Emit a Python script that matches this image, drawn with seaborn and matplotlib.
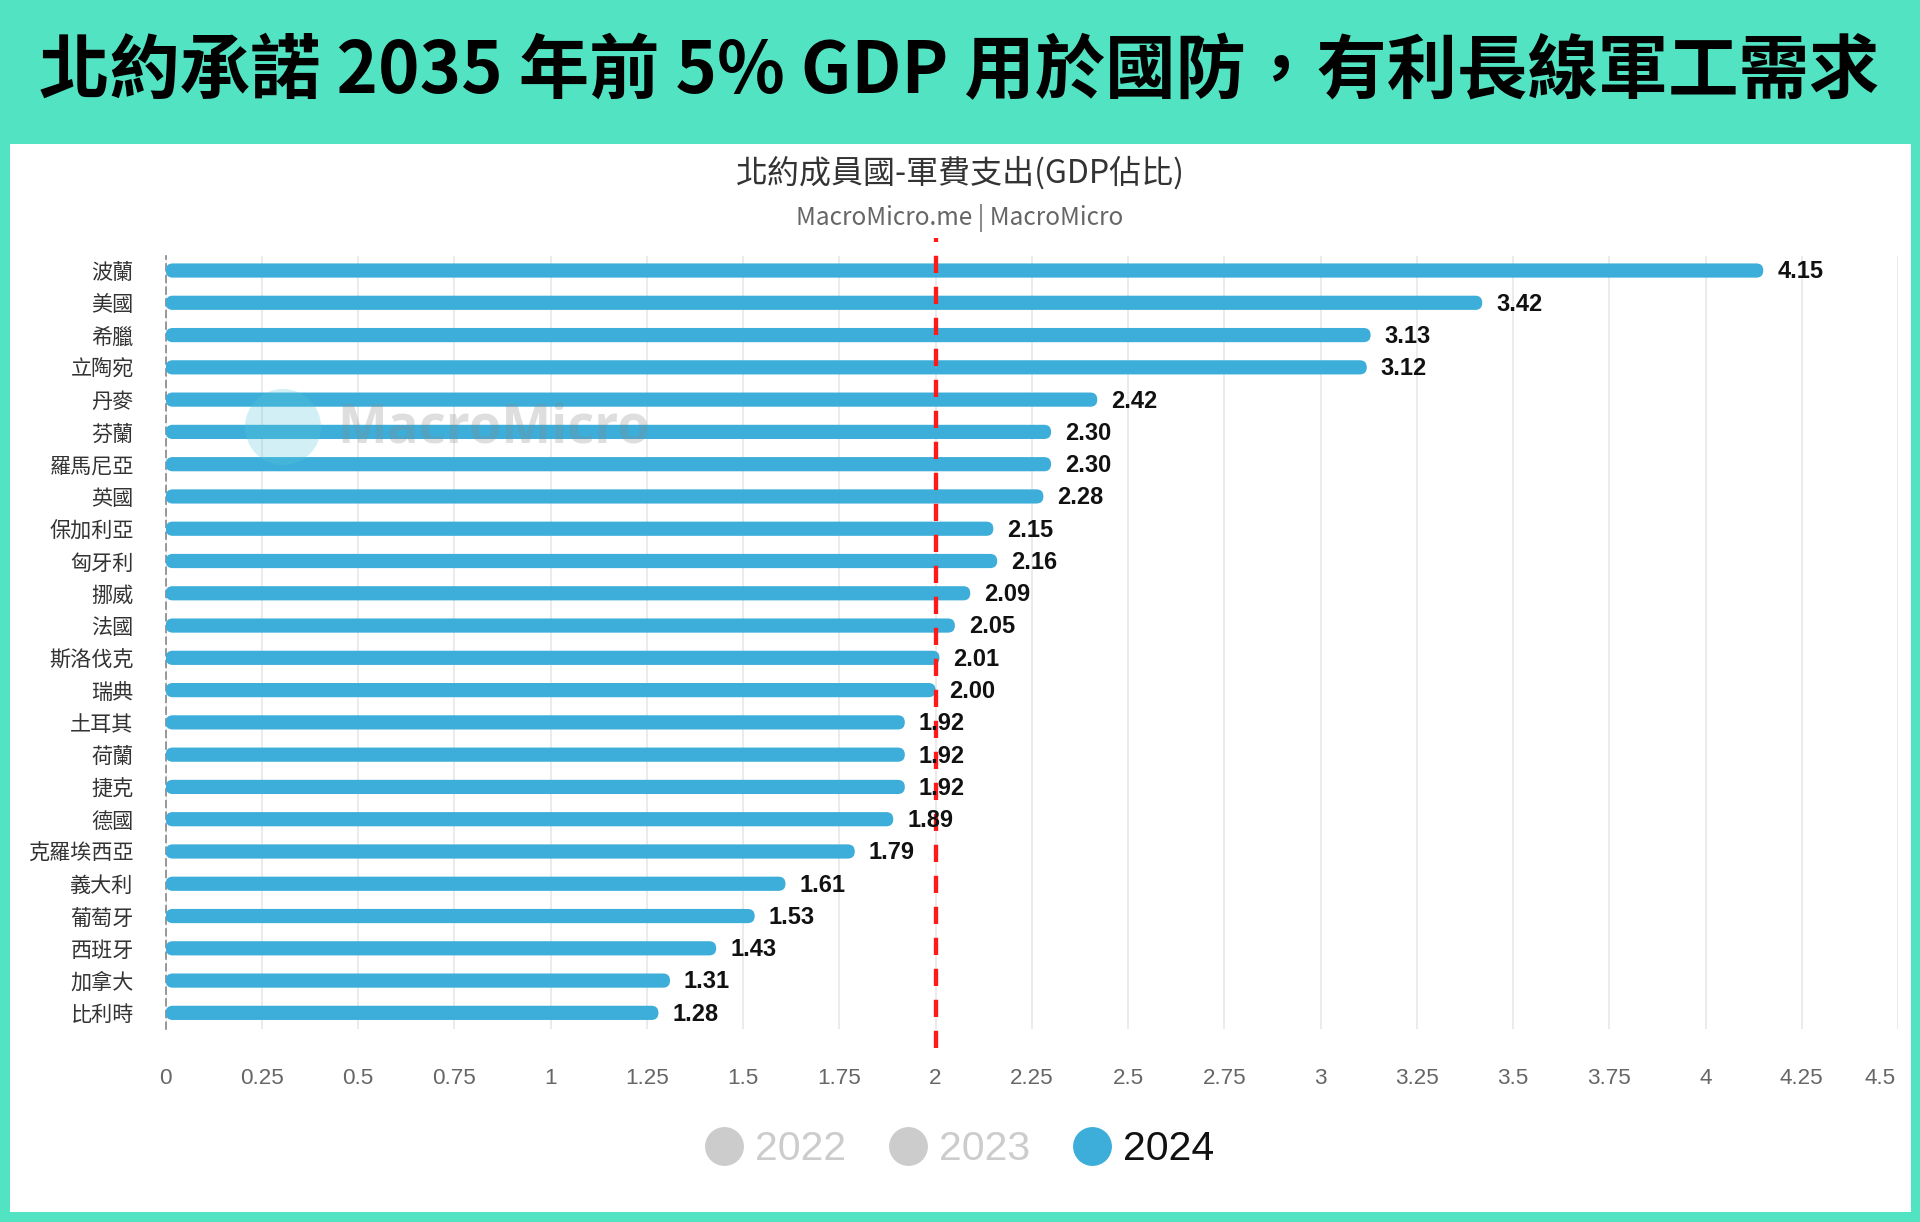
import numpy as np
import pandas as pd
import seaborn as sns
import matplotlib
matplotlib.use('Agg')
import matplotlib.pyplot as plt
import matplotlib.transforms as mtransforms
from matplotlib.patches import FancyBboxPatch, Rectangle, Circle
from matplotlib.lines import Line2D

# Data (2024, % of GDP)
countries = ['波蘭', '美國', '希臘', '立陶宛', '丹麥', '芬蘭', '羅馬尼亞', '英國', '保加利亞',
             '匈牙利', '挪威', '法國', '斯洛伐克', '瑞典', '土耳其', '荷蘭', '捷克', '德國',
             '克羅埃西亞', '義大利', '葡萄牙', '西班牙', '加拿大', '比利時']
values_2024 = [4.15, 3.42, 3.13, 3.12, 2.42, 2.30, 2.30, 2.28, 2.15,
               2.16, 2.09, 2.05, 2.01, 2.00, 1.92, 1.92, 1.92, 1.89,
               1.79, 1.61, 1.53, 1.43, 1.31, 1.28]
legend_years = ['2022', '2023', '2024']
x_ticks = [0, 0.25, 0.5, 0.75, 1, 1.25, 1.5, 1.75, 2, 2.25, 2.5, 2.75, 3, 3.25, 3.5, 3.75, 4, 4.25, 4.5]
x_tick_labels = ['0', '0.25', '0.5', '0.75', '1', '1.25', '1.5', '1.75', '2', '2.25', '2.5',
                 '2.75', '3', '3.25', '3.5', '3.75', '4', '4.25', '4.5']
target = 2

df = pd.DataFrame({'country': countries, 'value': values_2024})

TEAL = '#52e3c3'
BLUE = '#3caed9'
CJK = ['Noto Sans CJK TC', 'DejaVu Sans']
LAT = ['Liberation Sans', 'DejaVu Sans']

sns.set_style('white')
plt.rcParams['font.family'] = CJK

W, H = 1920, 1222
fig = plt.figure(figsize=(19.2, 12.22), dpi=100)
fig.patch.set_facecolor(TEAL)
fig.patches.append(Rectangle((10 / W, 1 - 1212 / H), 1901 / W, 1068 / H,
                             transform=fig.transFigure, facecolor='white', edgecolor='none', zorder=-10))

# plot area: x 165.7 -> 1898, y 256 -> 1029
ax = fig.add_axes([165.7 / W, 1 - 1029 / H, (1898 - 165.7) / W, 773 / H])
ax.set_facecolor('none')

sns.barplot(data=df, y='country', x='value', orient='h', color=BLUE, width=0.44,
            saturation=1, ax=ax, zorder=3)

# rounded bar ends
xpx = (1898 - 165.7) / 4.5
ypx = 773 / 23.95
r = 7 / xpx
for p in list(ax.patches):
    x0, y0 = p.get_x(), p.get_y()
    w, h = p.get_width(), p.get_height()
    p.remove()
    fb = FancyBboxPatch((x0, y0), w, h, boxstyle=f'round,pad=0,rounding_size={r}',
                        mutation_aspect=xpx / ypx, facecolor=BLUE, edgecolor='none', zorder=3)
    ax.add_patch(fb)

for i, v in enumerate(values_2024):
    ax.annotate(f'{v:.2f}', xy=(v, i), xytext=(10, -1), textcoords='offset points',
                va='center', ha='left', fontsize=17, fontweight='bold', color='#111111',
                family=LAT, zorder=6)

ax.set_xlim(0, 4.5)
ax.set_ylim(23.5, -0.45)
ax.set_xticks(x_ticks)
ax.set_xticklabels(x_tick_labels, family=LAT)
ax.set_xlabel('')
ax.set_ylabel('')
ax.grid(axis='x', color='#e6e6e6', linewidth=1.1, zorder=1)
ax.grid(axis='y', visible=False)
ax.set_axisbelow(True)
for s in ['top', 'right', 'bottom']:
    ax.spines[s].set_visible(False)
ax.spines['left'].set_linestyle((0, (4, 3)))
ax.spines['left'].set_color('#888888')
ax.spines['left'].set_linewidth(1.2)
ax.tick_params(axis='x', length=0, pad=28, labelsize=16.2, labelcolor='#666666')
ax.tick_params(axis='y', length=0, pad=23, labelsize=15.2, labelcolor='#333333')
# last tick label kept inside the panel
last = ax.get_xticklabels()[-1]
last.set_transform(last.get_transform() + mtransforms.ScaledTranslation(-0.18, 0, fig.dpi_scale_trans))

# 2% target line
ax.axvline(target, ymin=-0.025, ymax=1.023, color='#ff1a1a', linestyle=(0, (4, 3.2)),
           linewidth=3.1, clip_on=False, zorder=4)

# watermark
ax.add_patch(Circle((283, H - 427), 38, transform=None, facecolor='#5bc8d8', alpha=0.28,
                    edgecolor='none', zorder=5))
fig.text(337 / W, 1 - 428 / H, 'MacroMicro', fontsize=38, fontweight='bold',
         color='#8a8a8a', alpha=0.28, va='center', ha='left', family=['Open Sans', 'DejaVu Sans'])

# titles
fig.text(0.4995, 1 - 72 / H, '北約承諾 2035 年前 5% GDP 用於國防，有利長線軍工需求',
         ha='center', va='center', fontsize=50.7, fontweight='bold', color='black')
fig.text(0.5, 1 - 173 / H, '北約成員國-軍費支出(GDP佔比)', ha='center', va='center',
         fontsize=23, color='#333333')
fig.text(0.5, 1 - 218 / H, 'MacroMicro.me | MacroMicro', ha='center', va='center',
         fontsize=17.5, color='#666666')

# legend
handles = [Line2D([], [], marker='o', linestyle='none', markersize=28,
                  markerfacecolor=c, markeredgecolor='none')
           for c in ['#cccccc', '#cccccc', BLUE]]
leg = fig.legend(handles, legend_years, loc='center', bbox_to_anchor=(959 / W, 1 - 1149 / H),
                 ncol=3, frameon=False, fontsize=29.5, handletextpad=0.26, columnspacing=1.0,
                 handlelength=1.0, prop={'family': LAT, 'size': 29.5})
for t, c in zip(leg.get_texts(), ['#cccccc', '#cccccc', '#111111']):
    t.set_color(c)

fig.savefig('out.png', dpi=100, facecolor=fig.get_facecolor())
